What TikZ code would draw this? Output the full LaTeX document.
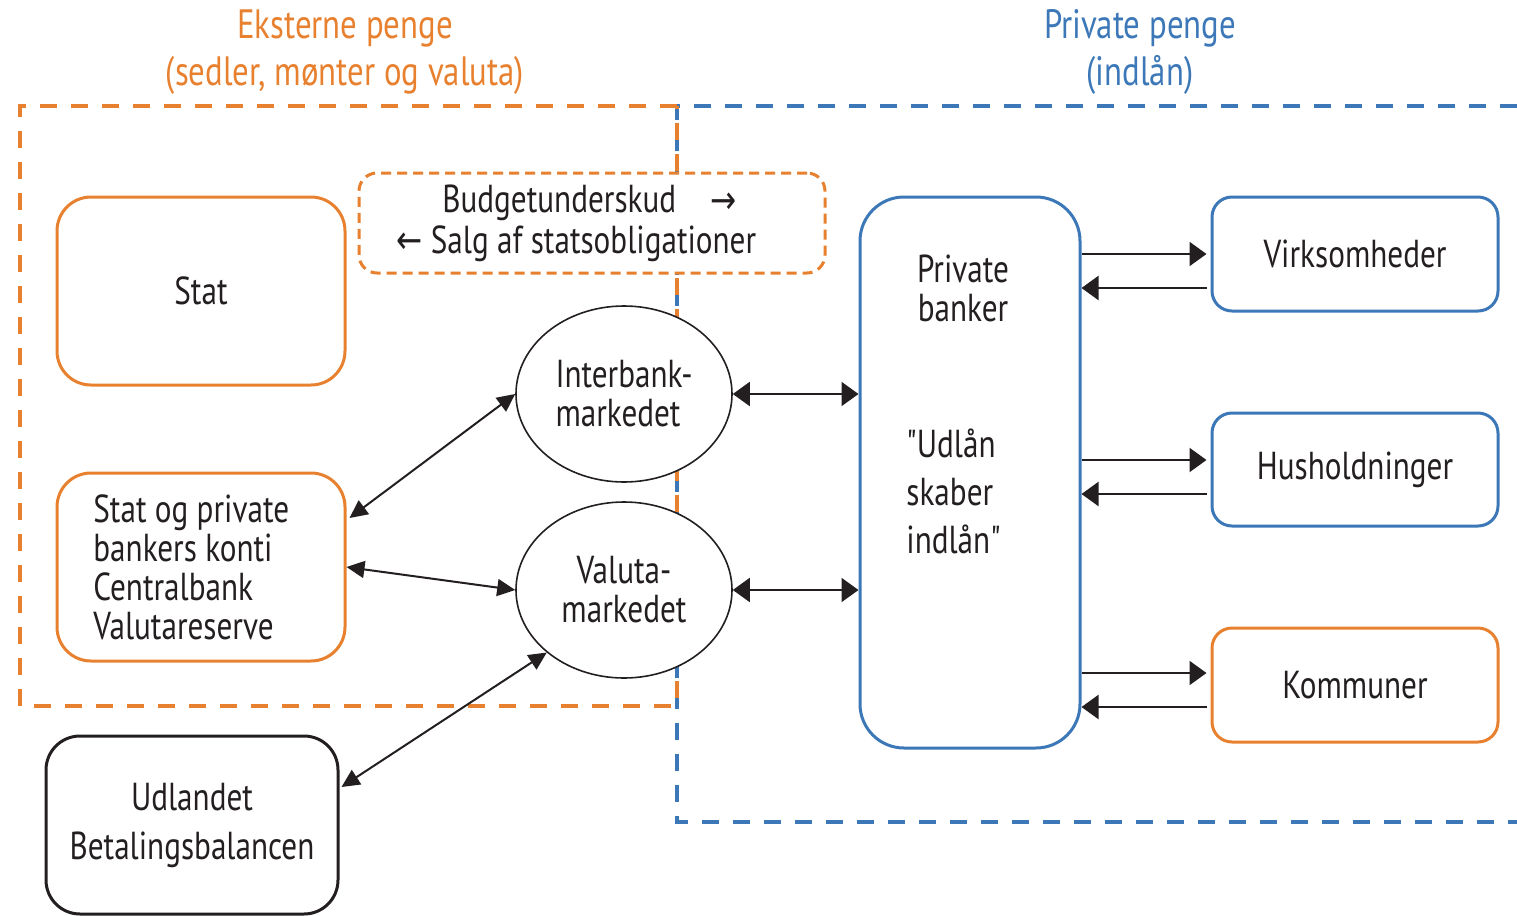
\documentclass[tikz,border=0pt]{standalone}
\usepackage{fontspec}
\setmainfont{PT Sans}[FakeStretch=0.8]
\newfontfamily\qfont{PT Sans}[FakeStretch=0.8,Ligatures=TeXOff]
\newfontfamily\arrowfont{DejaVu Sans}[FakeStretch=0.8]
\usetikzlibrary{arrows.meta,calc,shapes.geometric}
\definecolor{org}{HTML}{E8812F}
\definecolor{blu}{HTML}{3C78B8}
\definecolor{ink}{HTML}{231F20}
\begin{document}
\begin{tikzpicture}[x=0.5pt,y=-0.5pt,
  base/.style={font=\fontsize{19.5}{19.5}\selectfont, text=ink},
  box/.style={base, draw, rectangle, line width=1.5pt, fill=white, inner sep=0pt, align=center},
  obox/.style={box, draw=org},
  bbox/.style={box, draw=blu},
  kbox/.style={box, draw=ink},
  mkt/.style={base, draw=ink, ellipse, line width=0.8pt, fill=white, inner sep=0pt, align=center, minimum width=108pt, minimum height=88pt},
  frameo/.style={draw=org, line width=2pt, dash pattern=on 8.5pt off 7pt},
  frameb/.style={draw=blu, line width=2pt, dash pattern=on 8.5pt off 7pt},
  dbl/.style={draw=ink, line width=1pt, {Triangle[length=8.5pt,width=12pt]}-{Triangle[length=8.5pt,width=12pt]}},
  dbls/.style={draw=ink, line width=1pt, {Triangle[length=9pt,width=8.5pt]}-{Triangle[length=9pt,width=8.5pt]}},
  one/.style={draw=ink, line width=1.1pt, -{Triangle[length=8.5pt,width=12pt]}},
  ttl/.style={font=\fontsize{20.5}{23.5}\selectfont, align=center}
]
\useasboundingbox (0,0) rectangle (1517,916);

% titles
\node[ttl, text=org] (t1) at (345,52) {Eksterne penge\\(sedler, mønter og valuta)};
\node[ttl, text=blu] (t2) at (1140,52) {Private penge\\(indlån)};

% frames
\draw[frameb] (1517,106) -- (677,106) -- (677,822) -- (1517,822);
\draw[frameo] (677,106) -- (20,106) -- (20,706) -- (677,706) -- cycle;

% boxes
\node[obox, rounded corners=17pt, minimum width=144pt, minimum height=94pt] (stat) at (201,291) {Stat};
\node[box, draw=org, dash pattern=on 5pt off 3pt, rounded corners=9pt, minimum width=233pt, minimum height=50pt] (bud) at (592,223) {};
\node[base, anchor=west, inner sep=0pt] (bud1) at (442,203) {Budgetunderskud};
\node[base, anchor=west, inner sep=0pt] (bud1a) at (710,203) {\arrowfont →};
\node[base, anchor=west, inner sep=0pt] (bud2) at (396,244) {{\arrowfont ←} Salg af statsobligationer};
\node[obox, rounded corners=17pt, minimum width=144pt, minimum height=94pt] (sp) at (201,567) {};
\node[base, anchor=west, align=left, inner sep=0pt] (spt) at (93,567)
  {Stat og private\\bankers konti\\Centralbank\\Valutareserve};
\node[kbox, rounded corners=17pt, minimum width=146pt, minimum height=89pt, font=\fontsize{19.5}{24.5}\selectfont] (udl) at (192,825)
  {Udlandet\\Betalingsbalancen};
\node[mkt, align=left] (inter) at (624,394) {Interbank-\\markedet};
\node[mkt] (val) at (624,590) {Valuta-\\markedet};
\node[bbox, rounded corners=22pt, minimum width=110pt, minimum height=275.5pt] (pb) at (970,472.5) {};
\node[base, align=center] (pbt) at (963,288) {Private\\banker};
\node[base, align=left, anchor=west, inner sep=0pt, font=\fontsize{19.5}{24}\qfont] (pbq) at (906,491) {"Udlån\\skaber\\indlån"};
\node[bbox, rounded corners=10pt, minimum width=143pt, minimum height=57pt] (virk) at (1355,254) {Virksomheder};
\node[bbox, rounded corners=10pt, minimum width=143pt, minimum height=56.5pt] (hus) at (1355,469.5) {Husholdninger};
\node[obox, rounded corners=10pt, minimum width=143pt, minimum height=57pt] (kom) at (1355,685) {Kommuner};

% connectors
\draw[dbl] (inter.east) -- (inter.east -| pb.west);
\draw[dbl] (val.east) -- (val.east -| pb.west);
\draw[dbls] ($(sp.east)+(3,-49)$) -- (inter.west);
\draw[dbls] (sp.east) -- (val.west);
\draw[dbls] ($(udl.east)+(2,-38)$) -- (val.219);

\coordinate (v1) at ($(virk.west)+(-4,0)$);
\coordinate (v2) at ($(virk.west)+(-4,34)$);
\draw[one] (v1 -| pb.east) -- (v1);
\draw[one] (v2) -- (v2 -| pb.east);
\coordinate (h1) at ($(hus.west)+(-4,-9.5)$);
\coordinate (h2) at ($(hus.west)+(-4,24.5)$);
\draw[one] (h1 -| pb.east) -- (h1);
\draw[one] (h2) -- (h2 -| pb.east);
\coordinate (k1) at ($(kom.west)+(-4,-12)$);
\coordinate (k2) at ($(kom.west)+(-4,22)$);
\draw[one] (k1 -| pb.east) -- (k1);
\draw[one] (k2) -- (k2 -| pb.east);
\end{tikzpicture}
\end{document}
